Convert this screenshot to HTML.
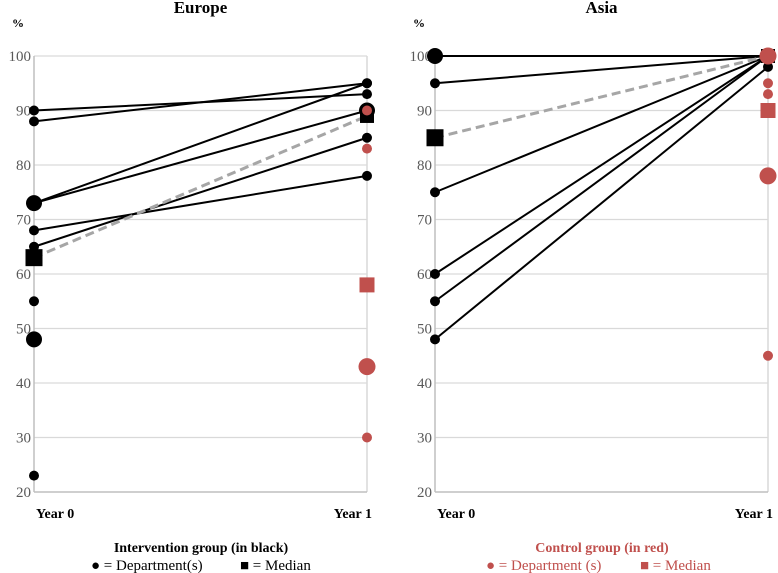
<!DOCTYPE html>
<html><head><meta charset="utf-8"><style>
html,body{margin:0;padding:0;background:#fff;width:778px;height:573px;overflow:hidden}
svg{display:block}
svg text{font-family:"Liberation Serif",serif}
</style></head><body>
<svg id="c" width="778" height="573"></svg>
<script>
const yTicks=[20,30,40,50,60,70,80,90,100];
const euLines0=[90,88,73,73,68,65];
const euLines1=[93,95,95,90,78,85];
const euMedian=[63,89];
const euBigDots0=[73,48];
const euDots0=[55,23];
const euBigDots1=[90];
const euRedDots=[90,83,30];
const euRedBig=[43];
const euRedMedian=[58];
const asLines0=[100,95,75,60,55,48];
const asLines1=[100,100,100,100,100,98];
const asMedian=[85,100];
const asBigDots0=[100];
const asRedDots=[95,93,45];
const asRedBig=[100,78];
const asRedMedian=[90];
const NS='http://www.w3.org/2000/svg';
const svg=document.getElementById('c');
function el(t,a,p){const e=document.createElementNS(NS,t);for(const k in a)e.setAttribute(k,a[k]);(p||svg).appendChild(e);return e;}
function txt(s,a,p){const e=el('text',a,p);e.textContent=s;return e;}
const RED='#c0504d';
function panel(name,title,x0,x1,d){
  const g=el('g',{});
  
  
  const yTop=56,yBot=492;
  const y=v=>yBot-(v-20)/80*(yBot-yTop);
  const X=[x0,x1];
  yTicks.forEach(t=>{
    if(t>20){const l=el('line',{x1:x0,x2:x1,y1:y(t),y2:y(t),stroke:'#d9d9d9','stroke-width':1.3},g);
    }
    const tl=txt(t,{x:x0-3,y:y(t)+5,'text-anchor':'end','font-size':15,fill:'#595959'},g);
    
  });
  el('line',{x1:x0,x2:x0,y1:yTop,y2:yBot,stroke:'#bfbfbf','stroke-width':1.5},g);
  el('line',{x1:x1,x2:x1,y1:yTop,y2:yBot,stroke:'#d9d9d9','stroke-width':1.5},g);
  el('line',{x1:x0,x2:x1,y1:yBot,y2:yBot,stroke:'#bfbfbf','stroke-width':1.5},g);
  const t=txt(title,{x:(x0+x1)/2,y:13,'text-anchor':'middle','font-size':17,'font-weight':'bold'},g);
  
  const p=txt('%',{x:x0-22,y:27,'font-size':12,'font-weight':'bold'},g);
  
  const a=txt('Year 0',{x:x0+2,y:518,'font-size':14,'font-weight':'bold'},g);
  
  const b=txt('Year 1',{x:x1+5,y:518,'font-size':14,'font-weight':'bold','text-anchor':'end'},g);
  
  d.l0.forEach((v,i)=>{
    const l=el('line',{x1:X[0],y1:y(v),x2:X[1],y2:y(d.l1[i]),stroke:'#000','stroke-width':2},g);
    
  });
  const m=el('line',{x1:X[0],y1:y(d.med[0]),x2:X[1],y2:y(d.med[1]),stroke:'#a6a6a6','stroke-width':3,'stroke-dasharray':'9,5'},g);
  
  const dot=(x,v,r,c)=>{const e=el('circle',{cx:x,cy:y(v),r:r,fill:c},g);
    };
  const sq=(x,v,s,c)=>{const e=el('rect',{x:x-s/2,y:y(v)-s/2,width:s,height:s,fill:c},g);
    };
  d.l0.forEach(v=>dot(X[0],v,5,'#000'));
  d.l1.forEach(v=>dot(X[1],v,5,'#000'));
  d.d0.forEach(v=>dot(X[0],v,5,'#000'));
  d.b0.forEach(v=>dot(X[0],v,8,'#000'));
  d.b1.forEach(v=>dot(X[1],v,8,'#000'));
  sq(X[0],d.med[0],17,'#000');
  sq(X[1],d.med[1],14,'#000');
  d.rd.forEach(v=>dot(X[1],v,5,RED));
  d.rb.forEach(v=>dot(X[1],v,8.5,RED));
  d.rm.forEach(v=>sq(X[1],v,15,RED));
}
panel('europe-panel','Europe',34,367,{l0:euLines0,l1:euLines1,med:euMedian,d0:euDots0,b0:euBigDots0,b1:euBigDots1,rd:euRedDots,rb:euRedBig,rm:euRedMedian});
panel('asia-panel','Asia',435,768,{l0:asLines0,l1:asLines1,med:asMedian,d0:[],b0:asBigDots0,b1:[],rd:asRedDots,rb:asRedBig,rm:asRedMedian});
function legend(name,cx,title,c,items){
  const g=el('g',{});
  
  
  const t=txt(title,{x:cx,y:552,'text-anchor':'middle','font-size':14,'font-weight':'bold',fill:c},g);
  
  const e1=txt(items[0],{x:items[1],y:570,'font-size':15,fill:c},g);
  
  const e2=txt(items[2],{x:items[3],y:570,'font-size':15,fill:c},g);
  
}
legend('legend-intervention',201,'Intervention group (in black)','#000',['\u25CF = Department(s)',91,'\u25A0 = Median',240]);
legend('legend-control',602,'Control group (in red)',RED,['\u25CF = Department (s)',486,'\u25A0 = Median',640]);
</script>
</body></html>
